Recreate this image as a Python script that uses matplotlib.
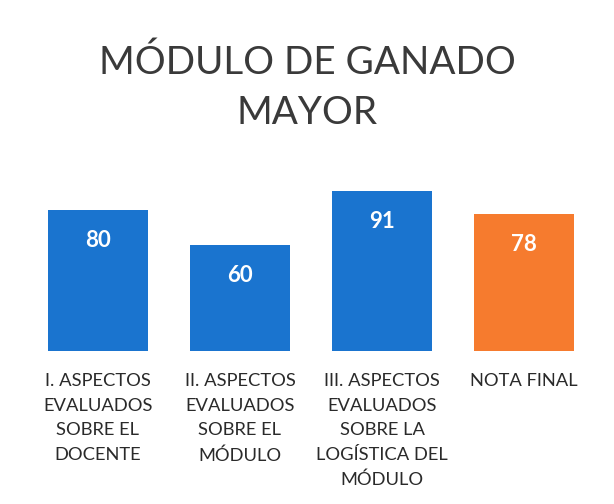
import matplotlib.pyplot as plt

# data
categories = ['I. ASPECTOS\nEVALUADOS\nSOBRE EL\nDOCENTE',
              'II. ASPECTOS\nEVALUADOS\nSOBRE EL\nMÓDULO',
              'III. ASPECTOS\nEVALUADOS\nSOBRE LA\nLOGÍSTICA DEL\nMÓDULO',
              'NOTA FINAL']
values = [80, 60, 91, 78]
colors = ['#1a74cf', '#1a74cf', '#1a74cf', '#f67b2e']

plt.rcParams['font.family'] = ['Lato', 'DejaVu Sans']

fig = plt.figure(figsize=(6.14, 5.04), dpi=100)
# axes placed so the baseline sits near y=351 px, bars ~142 px apart
ax = fig.add_axes([12.8 / 614, (504 - 351) / 504, 596.4 / 614, 176 / 504])

x = range(len(values))
bars = ax.bar(x, values, width=0.704, color=colors)

# value labels inside the bars
for b, v in zip(bars, values):
    ax.annotate(str(v), (b.get_x() + b.get_width() / 2, v),
                xytext=(0, -22), textcoords='offset points',
                ha='center', va='center', color='white',
                fontsize=16, fontweight='bold')

ax.set_xlim(-0.6, 3.6)
ax.set_ylim(0, 100)
ax.set_xticks(list(x))
ax.set_xticklabels(categories, fontsize=13.2, color='#2a2a2a',
                   linespacing=1.66, multialignment='center')
ax.tick_params(axis='x', length=0, pad=16)
ax.set_yticks([])
for s in ax.spines.values():
    s.set_visible(False)

fig.text(0.5, 1 - 88 / 504, 'MÓDULO DE GANADO\nMAYOR', ha='center', va='center',
         fontsize=27.8, color='#3a3a3a', linespacing=1.5)

plt.savefig('out.png', dpi=100)
